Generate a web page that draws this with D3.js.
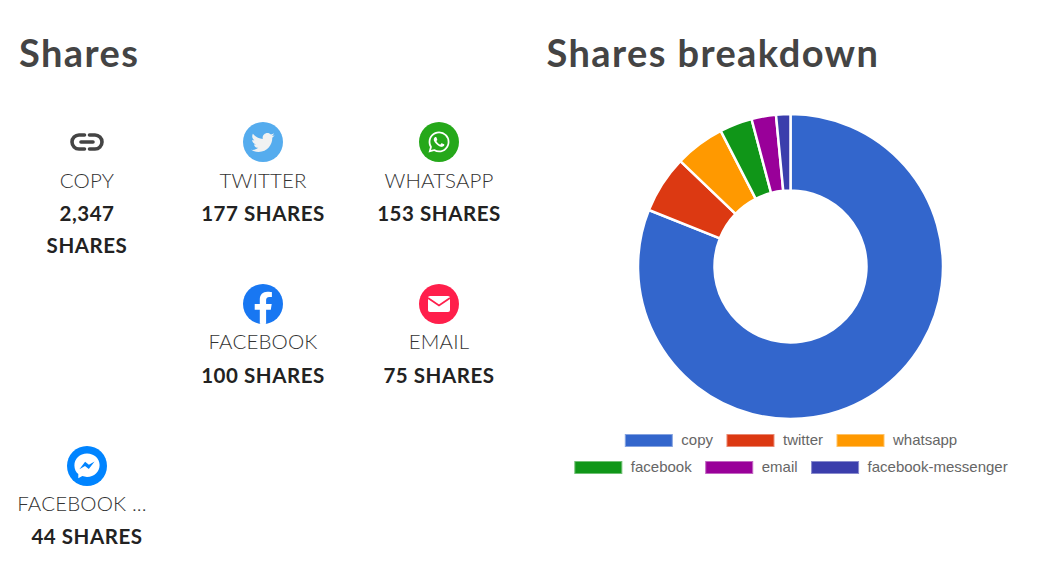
<!DOCTYPE html>
<html>
<head>
<meta charset="utf-8">
<script src="https://cdn.jsdelivr.net/npm/d3@7/dist/d3.min.js"></script>
<style>
html,body{margin:0;padding:0;background:#fff;overflow:hidden}
svg{display:block}
.title{font-family:Lato,sans-serif;font-weight:700;font-size:38px;fill:#444;letter-spacing:1.4px}
.lab{font-family:Lato,sans-serif;font-weight:300;font-size:20.5px;fill:#333;text-anchor:middle;letter-spacing:.15px}
.cnt{font-family:Lato,sans-serif;font-weight:700;font-size:20.5px;fill:#222;text-anchor:middle;letter-spacing:.55px}
.leg{font-family:"Liberation Sans",Arial,sans-serif;font-size:15px;fill:#666}
</style>
</head>
<body>
<svg id="c" width="1049" height="581"></svg>
<script>
// Data
const categories = ["copy","twitter","whatsapp","facebook","email","facebook-messenger"];
const shareValues = [2347,177,153,100,75,44];
const cardLabels = ["COPY","TWITTER","WHATSAPP","FACEBOOK","EMAIL","FACEBOOK ..."];
const cardCounts = [["2,347","SHARES"],["177 SHARES"],["153 SHARES"],["100 SHARES"],["75 SHARES"],["44 SHARES"]];
const sliceColors = ["#3366cc","#dc3912","#ff9900","#109618","#990099","#3b3eac"];
const titles = ["Shares","Shares breakdown"];

// Layout
const W=1049,H=581;
const cardCol=[0,1,2,1,2,0], cardRow=[0,0,0,1,1,2];
const labelShift=[0,0,0,0,0,-5];
const labelDy=[45.6,45,45], countDy=[78.6,78.6,77.6];
const colX=d3.scalePoint().domain([0,1,2]).range([87,439]);
const rowY=d3.scalePoint().domain([0,1,2]).range([142,466]);
const svg=d3.select("#c");

svg.append("text").attr("class","title").attr("x",19).attr("y",67).text(titles[0]);
svg.append("text").attr("class","title").attr("x",546.5).attr("y",67).text(titles[1]);

// Icons, drawn in a local frame centred on the badge
const R=20;
const icons={
 copy(g){
  g.append("path").attr("fill","none").attr("stroke","#444").attr("stroke-width",3.6)
   .attr("stroke-linecap","round")
   .attr("d","M-2.5,-7H-8A7,7 0 0 0 -8,7H-2.5M2.5,-7H8A7,7 0 0 1 8,7H2.5M-6,0H6");
 },
 twitter(g){
  g.append("circle").attr("r",R).attr("fill","#55acee");
  g.append("path").attr("transform","translate(-13.5,-13.5) scale(1.12)").attr("fill","#f1f2f2")
   .attr("d","M22.46 6c-.77.35-1.6.58-2.46.69.88-.53 1.56-1.37 1.88-2.38-.83.5-1.75.85-2.72 1.05C18.37 4.5 17.26 4 16 4c-2.35 0-4.27 1.92-4.27 4.29 0 .34.04.67.11.98C8.28 9.09 5.11 7.38 3 4.79c-.37.63-.58 1.37-.58 2.15 0 1.49.75 2.81 1.91 3.56-.71 0-1.37-.2-1.95-.5v.03c0 2.08 1.48 3.82 3.44 4.21a4.22 4.22 0 0 1-1.93.07 4.28 4.28 0 0 0 4 2.98 8.521 8.521 0 0 1-5.33 1.84c-.34 0-.68-.02-1.02-.06C3.44 20.29 5.7 21 8.12 21 16 21 20.33 14.46 20.33 8.79c0-.19 0-.37-.01-.56.84-.6 1.56-1.36 2.14-2.23z");
 },
 whatsapp(g){
  g.append("circle").attr("r",R).attr("fill","#25a81a");
  g.append("path").attr("transform","translate(-12.6,-12.6) scale(1.05)").attr("fill","#fff")
   .attr("d","M12.04 2c-5.46 0-9.91 4.45-9.91 9.91 0 1.75.46 3.45 1.32 4.95L2.05 22l5.25-1.38c1.45.79 3.08 1.21 4.74 1.21 5.46 0 9.91-4.45 9.91-9.91 0-2.65-1.03-5.14-2.9-7.01A9.816 9.816 0 0 0 12.04 2m.01 1.67c2.2 0 4.26.86 5.82 2.42a8.225 8.225 0 0 1 2.41 5.83c0 4.54-3.7 8.23-8.24 8.23-1.48 0-2.93-.39-4.19-1.15l-.3-.17-3.12.82.83-3.04-.2-.32a8.188 8.188 0 0 1-1.26-4.38c.01-4.54 3.7-8.24 8.25-8.24M8.53 7.33c-.16 0-.43.06-.66.31-.22.25-.87.86-.87 2.07 0 1.22.89 2.39 1 2.56.14.17 1.76 2.67 4.25 3.73.59.27 1.05.42 1.41.53.59.19 1.13.16 1.56.1.48-.07 1.46-.6 1.67-1.18.21-.58.21-1.07.15-1.18-.07-.1-.23-.16-.48-.27-.25-.14-1.47-.74-1.69-.82-.23-.08-.37-.12-.56.12-.16.25-.64.81-.78.97-.15.17-.29.19-.53.07-.26-.13-1.06-.39-2-1.23-.74-.66-1.23-1.47-1.38-1.72-.12-.24-.01-.39.11-.5.11-.11.27-.29.37-.44.13-.14.17-.25.25-.41.08-.17.04-.31-.02-.43-.06-.11-.56-1.35-.77-1.84-.2-.48-.4-.42-.56-.43-.14 0-.3-.01-.47-.01z");
 },
 facebook(g){
  g.append("circle").attr("r",R).attr("fill","#1877f2");
  g.append("path").attr("transform","translate(-20,-20)").attr("fill","#fff")
   .attr("d","M27.8 25.8L28.7 20H23.1V16.2C23.1 14.6 23.9 13.1 26.4 13.1H28.9V8.2C28.9 8.2 26.6 7.8 24.4 7.8C19.8 7.8 16.8 10.6 16.8 15.6V20H11.7V25.8H16.8V39.8C17.8 39.95 18.9 40 20 40C21.1 40 22.1 39.95 23.1 39.8V25.8Z");
 },
 email(g){
  g.append("circle").attr("r",R).attr("fill","#ff1f4b");
  g.append("rect").attr("x",-11).attr("y",-8).attr("width",22).attr("height",16).attr("rx",2).attr("fill","#fff");
  g.append("path").attr("fill","none").attr("stroke","#ff1f4b").attr("stroke-width",1.8)
   .attr("d","M-11,-6L0,1.5L11,-6");
 },
 messenger(g){
  g.append("circle").attr("r",R).attr("fill","#0084ff");
  g.append("path").attr("fill","#fff")
   .attr("d","M0,-12.5C-7.2,-12.5 -12.6,-7.4 -12.6,-0.6C-12.6,3 -11.1,6 -8.7,8.1V12.3L-4.7,10.1C-3.2,10.6 -1.7,10.9 0,10.9C7.2,10.9 12.6,5.8 12.6,-1C12.6,-7.4 7.2,-12.5 0,-12.5Z");
  g.append("path").attr("fill","#0084ff")
   .attr("d","M-7.6,3.2L-1.9,-4.2L1.9,-1.2L7.6,-4.4L1.8,3L-2,0Z");
 }
};
const iconKeys=["copy","twitter","whatsapp","facebook","email","messenger"];

const cards=svg.selectAll("g.card").data(cardLabels).join("g").attr("class","card")
  .attr("transform",(d,i)=>`translate(${colX(cardCol[i])},${rowY(cardRow[i])})`);
cards.each(function(d,i){
  const g=d3.select(this);
  icons[iconKeys[i]](g.append("g"));
  g.append("text").attr("class","lab").attr("x",labelShift[i]).attr("y",labelDy[cardRow[i]]).text(d);
  cardCounts[i].forEach((t,j)=>g.append("text").attr("class","cnt").attr("y",countDy[cardRow[i]]+32*j).text(t));
});

// Doughnut
const cx=790.5,cy=266.5,outer=152.5,inner=76;
const pie=d3.pie().sort(null).value(d=>d)(shareValues);
const arc=d3.arc().innerRadius(inner).outerRadius(outer);
const color=d3.scaleOrdinal().domain(categories).range(sliceColors);
svg.append("g").attr("transform",`translate(${cx},${cy})`)
  .selectAll("path").data(pie).join("path")
  .attr("d",arc).attr("fill",(d,i)=>color(categories[i]))
  .attr("stroke","#fff").attr("stroke-width",2.5);

// Legend
const legendRows=[[0,1,2],[3,4,5]];
const legendRowY=[434,461];
const boxW=48,boxH=13,textGap=8.5,itemGap=13.5,legCx=791;
const legend=svg.append("g");
legendRows.forEach((row,r)=>{
  const g=legend.append("g");
  let x=0;
  row.forEach(i=>{
    const item=g.append("g").attr("transform",`translate(${x},0)`);
    item.append("rect").attr("x",.5).attr("y",.5).attr("width",boxW-1).attr("height",boxH-1)
      .attr("fill",sliceColors[i]).attr("stroke",d3.interpolateRgb(sliceColors[i],"#fff")(.4));
    const t=item.append("text").attr("class","leg").attr("x",boxW+textGap).attr("y",boxH-2).text(categories[i]);
    x+=boxW+textGap+t.node().getComputedTextLength()+itemGap;
  });
  const total=x-itemGap;
  g.attr("transform",`translate(${legCx-total/2},${legendRowY[r]})`);
});
</script>
</body>
</html>
